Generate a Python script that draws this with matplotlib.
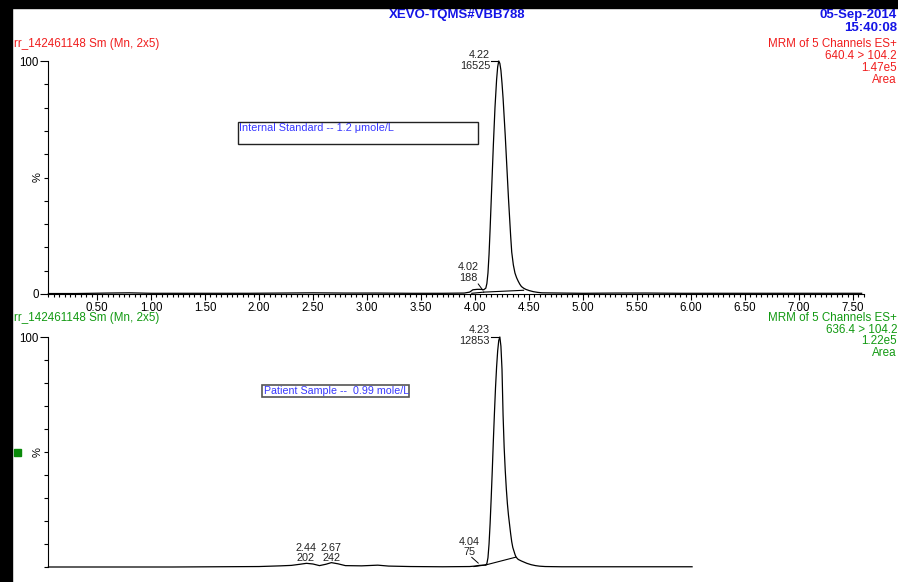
import matplotlib
matplotlib.use("Agg")
import matplotlib.pyplot as plt
from matplotlib.patches import Rectangle
from matplotlib.ticker import MultipleLocator, FixedLocator

plt.rcParams['font.family'] = ['Liberation Sans', 'DejaVu Sans']

# =========================
# DATA
# =========================
# top trace: internal standard, 640.4 > 104.2
top_t = [0.05, 0.30, 0.60, 0.80, 1.00, 1.30, 1.60, 1.90, 2.20, 2.50, 2.80, 3.10,
         3.40, 3.70, 3.90, 3.95, 3.98, 4.02, 4.06, 4.08,
         4.10, 4.11, 4.12, 4.13, 4.14, 4.155, 4.17, 4.185, 4.20, 4.21, 4.22, 4.23,
         4.24, 4.25, 4.26, 4.27, 4.28, 4.29, 4.30, 4.31, 4.32, 4.33, 4.34, 4.355,
         4.37, 4.385, 4.40, 4.415, 4.43, 4.45, 4.47, 4.50, 4.54, 4.58, 4.62,
         4.80, 5.00, 5.30, 5.60, 5.90, 6.20, 6.60, 7.00, 7.30, 7.58]
top_y = [0.2, 0.2, 0.4, 0.5, 0.3, 0.3, 0.3, 0.3, 0.4, 0.5, 0.4, 0.4,
         0.3, 0.3, 0.4, 0.8, 1.8, 2.0, 2.0, 1.8,
         2.5, 4.5, 9.0, 17.0, 28.0, 46.0, 64.0, 80.0, 92.0, 97.5, 100.0, 99.0,
         96.0, 90.5, 84.0, 76.0, 68.0, 59.0, 50.0, 41.0, 33.0, 25.0, 18.0, 12.5,
         9.0, 7.0, 5.5, 4.2, 3.2, 2.5, 2.0, 1.5, 1.0, 0.7, 0.5,
         0.4, 0.3, 0.4, 0.4, 0.3, 0.3, 0.3, 0.3, 0.3, 0.3]

# bottom trace: patient sample, 636.4 > 104.2
bot_t = [0.05, 0.40, 0.80, 1.20, 1.60, 2.00, 2.20, 2.30, 2.38, 2.44, 2.50, 2.56,
         2.62, 2.67, 2.73, 2.80, 2.95, 3.10, 3.20, 3.40, 3.70, 3.95, 4.00, 4.04,
         4.08, 4.10, 4.11, 4.12, 4.13, 4.14, 4.15, 4.16, 4.17, 4.18, 4.19, 4.20,
         4.21, 4.22, 4.23, 4.24, 4.25, 4.26, 4.27, 4.28, 4.29, 4.30, 4.31, 4.32,
         4.33, 4.34, 4.35, 4.36, 4.37, 4.38, 4.40, 4.43, 4.46, 4.48, 4.52, 4.56,
         4.60, 4.65, 4.80, 5.00, 5.30, 5.60, 6.01]
bot_y = [0.0, 0.0, 0.0, 0.0, 0.1, 0.2, 0.5, 0.7, 1.2, 1.6, 1.3, 0.6,
         1.2, 1.9, 1.4, 0.6, 0.5, 0.8, 0.4, 0.2, 0.1, 0.2, 0.4, 0.7,
         0.8, 0.9, 1.5, 4.0, 10.0, 19.0, 30.0, 42.0, 55.0, 67.0, 78.0, 87.0,
         94.0, 98.5, 100.0, 96.0, 86.0, 66.0, 52.0, 42.0, 34.0, 27.5, 22.5, 18.5,
         14.5, 11.0, 8.5, 7.0, 5.5, 4.3, 3.3, 2.6, 2.0, 1.6, 1.0, 0.6,
         0.35, 0.2, 0.1, 0.1, 0.1, 0.1, 0.1]

# integration baselines (start, end)
top_base_t = [[3.97, 4.08], [4.08, 4.45]]
top_base_y = [[0.3, 0.8], [0.8, 1.6]]
bot_base_t = [[3.99, 4.10], [4.10, 4.38]]
bot_base_y = [[0.2, 0.9], [0.9, 4.3]]

# peak labels: time label, area label, x position, y of the two lines
top_peaks = [("4.22", "16525", 4.14, 102.6, 97.9, "right"),
             ("4.02", "188", 3.94, 11.5, 6.7, "center")]
bot_peaks = [("4.23", "12853", 4.14, 103.0, 98.3, "right"),
             ("4.04", "75", 3.95, 11.0, 6.4, "center"),
             ("2.44", "202", 2.435, 8.4, 3.9, "center"),
             ("2.67", "242", 2.67, 8.4, 3.9, "center")]

x_ticks = [0.50, 1.00, 1.50, 2.00, 2.50, 3.00, 3.50, 4.00, 4.50, 5.00,
           5.50, 6.00, 6.50, 7.00, 7.50]

RED = "#f01e1e"
GREEN = "#139a13"
BLUE = "#1414e6"
BOXBLUE = "#3838ff"

W, H = 898, 582
fig = plt.figure(figsize=(W / 100, H / 100), dpi=100)


def fx(px):
    return px / W


def fy(py):
    return 1 - py / H


def setup_axis(ax, show_x):
    ax.set_xlim(0.05, 7.6)
    ax.set_ylim(0, 100)
    ax.patch.set_alpha(0)
    for s in ["top", "right"]:
        ax.spines[s].set_visible(False)
    ax.spines["left"].set_linewidth(0.8)
    ax.spines["bottom"].set_linewidth(0.8)
    ax.yaxis.set_minor_locator(MultipleLocator(10))
    if show_x:
        ax.yaxis.set_major_locator(FixedLocator([0, 100]))
        ax.set_xticks(x_ticks)
        ax.set_xticklabels([f"{v:.2f}" for v in x_ticks])
        ax.xaxis.set_minor_locator(MultipleLocator(0.05))
        ax.tick_params(axis="x", which="major", length=4, width=0.8, labelsize=8.3, pad=1.5)
        ax.tick_params(axis="x", which="minor", length=2.5, width=0.8)
    else:
        # lower panel is cut off below its baseline in the screenshot
        ax.spines["bottom"].set_visible(False)
        ax.set_xticks([])
        ax.yaxis.set_major_locator(FixedLocator([100]))
    ax.tick_params(axis="y", which="major", length=6, width=0.8, labelsize=8.3, pad=1)
    ax.tick_params(axis="y", which="minor", length=3, width=0.8)
    ax.text(-0.013, 50, "%", rotation=90, fontsize=8, ha="center", va="center",
            transform=ax.get_yaxis_transform())


def draw_trace(ax, t, y, base_t, base_y, peaks):
    ax.plot(t, y, color="black", lw=0.9, clip_on=False, solid_joinstyle="round")
    for bt, by in zip(base_t, base_y):
        ax.plot(bt, by, color="black", lw=0.8, clip_on=False)
    for tl, al, x, y1, y2, ha in peaks:
        ax.text(x, y1, tl, fontsize=7.8, ha=ha, va="center", color="#222222", clip_on=False)
        ax.text(x, y2, al, fontsize=7.8, ha=ha, va="center", color="#222222", clip_on=False)


# top panel
ax1 = fig.add_axes([fx(48.4), fy(294), fx(863.8) - fx(48.4), fy(61) - fy(294)])
setup_axis(ax1, True)
draw_trace(ax1, top_t, top_y, top_base_t, top_base_y, top_peaks)
ax1.plot([4.15, 4.21], [100, 100], color="black", lw=0.8, clip_on=False)
ax1.plot([4.03, 4.07], [4.3, 1.8], color="black", lw=0.7, clip_on=False)

# bottom panel
ax2 = fig.add_axes([fx(48.4), fy(567), fx(863.8) - fx(48.4), fy(337) - fy(567)])
setup_axis(ax2, False)
draw_trace(ax2, bot_t, bot_y, bot_base_t, bot_base_y, bot_peaks)
ax2.plot([4.15, 4.22], [100, 100], color="black", lw=0.8, clip_on=False)
ax2.plot([3.97, 4.03], [4.2, 1.7], color="black", lw=0.7, clip_on=False)

# header texts
fig.text(fx(457), fy(15), "XEVO-TQMS#VBB788", color=BLUE, fontsize=9.5,
         fontweight="bold", ha="center", va="center")
fig.text(fx(897), fy(15), "05-Sep-2014", color=BLUE, fontsize=9.5,
         fontweight="bold", ha="right", va="center")
fig.text(fx(897), fy(28), "15:40:08", color=BLUE, fontsize=9.5,
         fontweight="bold", ha="right", va="center")

fig.text(fx(14), fy(44), "rr_142461148 Sm (Mn, 2x5)", color=RED, fontsize=8.4,
         ha="left", va="center")
for i, s in enumerate(["MRM of 5 Channels ES+", "640.4 > 104.2", "1.47e5", "Area"]):
    fig.text(fx(897), fy(44 + 12 * i), s, color=RED, fontsize=8.4, ha="right", va="center")

fig.text(fx(14), fy(318), "rr_142461148 Sm (Mn, 2x5)", color=GREEN, fontsize=8.4,
         ha="left", va="center")
for i, s in enumerate(["MRM of 5 Channels ES+", "636.4 > 104.2", "1.22e5", "Area"]):
    fig.text(fx(897), fy(318 + 11.7 * i), s, color=GREEN, fontsize=8.4, ha="right", va="center")

# annotation boxes
fig.patches.append(Rectangle((fx(238), fy(144)), fx(478) - fx(238), fy(122) - fy(144),
                             transform=fig.transFigure, fill=False, ec="#222222", lw=1.0))
fig.text(fx(239.5), fy(128), "Internal Standard -- 1.2 \u03bcmole/L", color=BOXBLUE,
         fontsize=7.8, ha="left", va="center")
fig.patches.append(Rectangle((fx(262), fy(397)), fx(409) - fx(262), fy(385) - fy(397),
                             transform=fig.transFigure, fill=False, ec="#555555", lw=1.2))
fig.text(fx(263.5), fy(391), "Patient Sample --  0.99 mole/L", color=BOXBLUE,
         fontsize=7.7, ha="left", va="center")

# green marker left of the lower trace
fig.patches.append(Rectangle((fx(14), fy(456)), fx(7), fy(449) - fy(456),
                             transform=fig.transFigure, color="#0a8a0a"))

# black screen borders
fig.patches.append(Rectangle((0, fy(7.5)), 1, fy(0) - fy(7.5),
                             transform=fig.transFigure, color="black", zorder=10))
fig.patches.append(Rectangle((0, 0), fx(12), 1,
                             transform=fig.transFigure, color="black", zorder=10))

fig.savefig("out.png", dpi=100)
